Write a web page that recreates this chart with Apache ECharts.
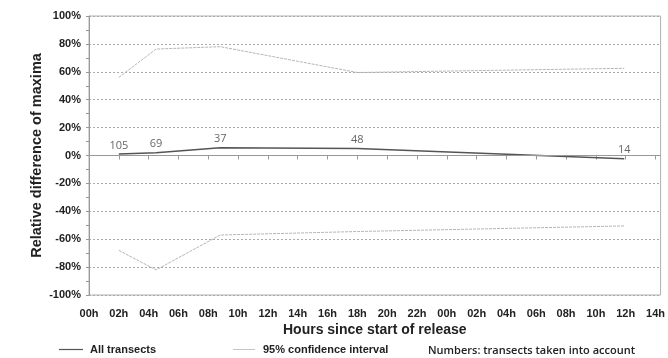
<!DOCTYPE html>
<html><head><meta charset="utf-8">
<script src="https://cdn.jsdelivr.net/npm/echarts@6/dist/echarts.min.js"></script>
<style>html,body{margin:0;padding:0;background:#fff}#c{width:668px;height:358px}</style>
</head><body><div id="c"></div>
<script>
// hours since start of release
var hours = [2, 4.5, 8.8, 18, 35.9];
var allTransects = [1, 2, 5.6, 5, -2.3];
var upperCI = [56, 76.3, 78, 59.5, 62.5];
var lowerCI = [-68, -82, -57, -54.5, -50.5];
var transectCounts = [105, 69, 37, 48, 14];
var xTickLabels = ['00h','02h','04h','06h','08h','10h','12h','14h','16h','18h','20h','22h',
                   '00h','02h','04h','06h','08h','10h','12h','14h'];

function pairs(xs, ys){ return xs.map(function(x,i){ return [x, ys[i]]; }); }

var chart = echarts.init(document.getElementById('c'), null, {renderer:'canvas'});
var boldFont = {fontFamily:'Liberation Sans, Arial, sans-serif', fontWeight:'bold', color:'#222'};
chart.setOption({
  animation:false,
  grid:{left:89, top:16, right:5, bottom:63, show:true, borderColor:'#b0b0b0', borderWidth:1, backgroundColor:'transparent'},
  xAxis:{
    type:'value', min:0, max:38.34, interval:2,
    name:'Hours since start of release', nameLocation:'middle', nameGap:28, nameMoveOverlap:false,
    nameTextStyle:Object.assign({fontSize:14}, boldFont),
    axisLine:{show:true, lineStyle:{color:'#999'}},
    axisTick:{show:true, length:4, lineStyle:{color:'#999'}},
    axisLabel:Object.assign({fontSize:11, margin:13, showMaxLabel:false,
      formatter:function(v){ var i=Math.round(v/2); return (Math.abs(v-i*2)<1e-6 && xTickLabels[i]!==undefined)? xTickLabels[i] : ''; }}, boldFont),
    splitLine:{show:false}
  },
  yAxis:{
    type:'value', min:-100, max:100, interval:20,
    name:'Relative difference of maxima', nameLocation:'middle', nameGap:45, nameMoveOverlap:false,
    nameTextStyle:Object.assign({fontSize:14.5}, boldFont),
    axisLine:{show:true, lineStyle:{color:'#999'}},
    axisTick:{show:true, length:3, lineStyle:{color:'#999'}},
    minorTick:{show:true, splitNumber:2, length:3, lineStyle:{color:'#999'}},
    axisLabel:Object.assign({fontSize:11, margin:8, formatter:function(v){return v+'%';}}, boldFont),
    splitLine:{show:true, lineStyle:{color:'#aaa', type:[2,2], width:1}}
  },
  legend:[
    {left:59, top:344, padding:0, itemWidth:24, itemHeight:8, itemGap:10,
     data:[{name:'All transects', icon:'path://M0,3.4H24V4.6H0Z'}],
     textStyle:Object.assign({fontSize:11, padding:[0,0,0,2]}, boldFont)},
    {left:233, top:344, padding:0, itemWidth:22, itemHeight:8, itemGap:8,
     data:[{name:'95% confidence interval', icon:'path://M0,3.5H22V4.5H0Z'}],
     textStyle:Object.assign({fontSize:11, padding:[0,0,0,3]}, boldFont)}
  ],
  graphic:[
    {type:'text', left:428, top:345, style:{text:'Numbers: transects taken into account',
      font:'600 11px "Open Sans", sans-serif', fill:'#222'}}
  ],
  series:[
    {name:'95% confidence interval', type:'line', symbol:'none', data:pairs(hours, upperCI),
     itemStyle:{color:'#c4c4c4'},
     lineStyle:{color:'#b5b5b5', width:1, type:[3,1]}, z:2},
    {name:'95% confidence interval', type:'line', symbol:'none', data:pairs(hours, lowerCI),
     itemStyle:{color:'#c4c4c4'},
     lineStyle:{color:'#b5b5b5', width:1, type:[3,1]}, z:2},
    {name:'All transects', type:'line', symbol:'circle', symbolSize:0.1, showSymbol:true,
     data:pairs(hours, allTransects),
     lineStyle:{color:'#555', width:1.5}, itemStyle:{color:'#555'},
     label:{show:true, position:'top', distance:3, fontFamily:'"Open Sans", sans-serif', fontSize:11, color:'#666',
       formatter:function(p){ return String(transectCounts[p.dataIndex]); }},
     markLine:{silent:true, symbol:'none', label:{show:false}, lineStyle:{color:'#999', type:'solid', width:1},
       data:[{yAxis:0}]},
     z:3}
  ]
});
</script></body></html>
